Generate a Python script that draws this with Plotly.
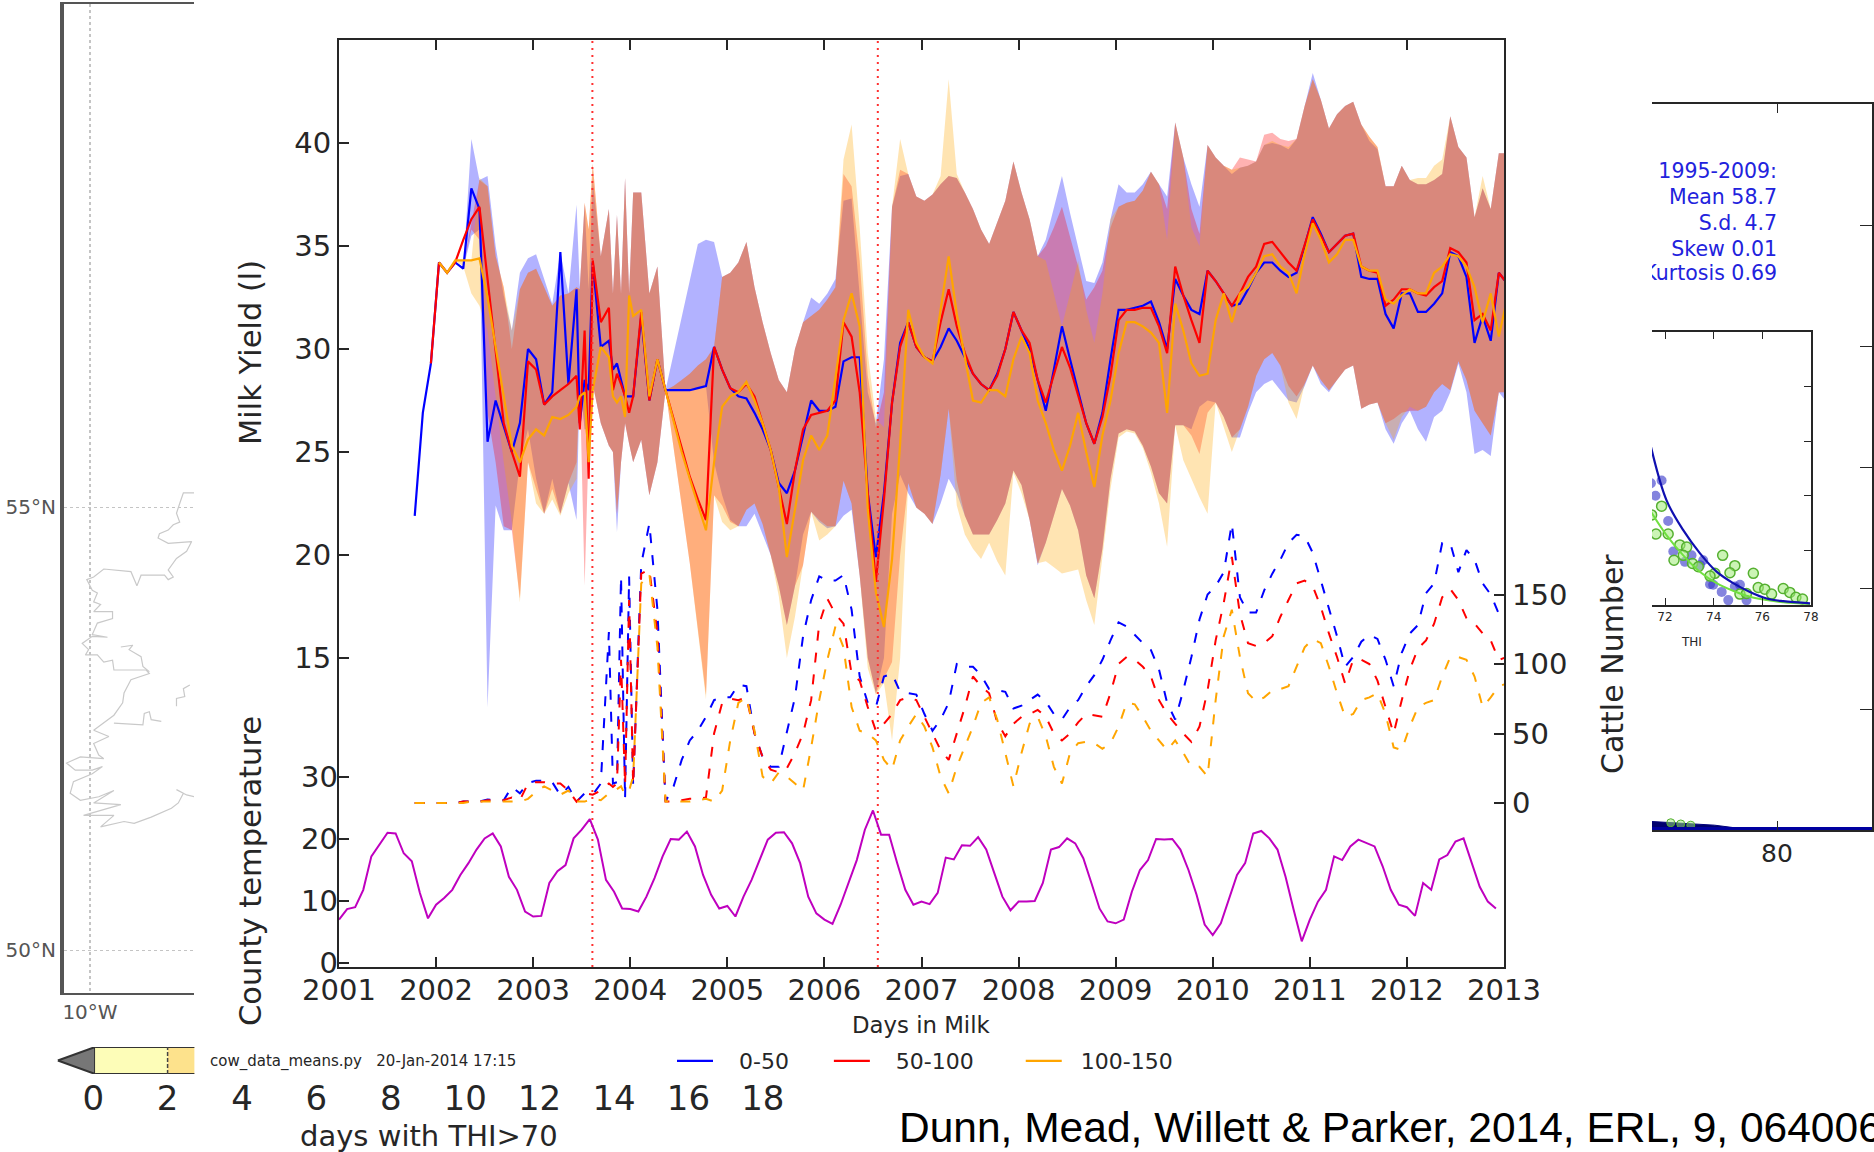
import plotly.graph_objects as go

W, H = 1874, 1152
FONT = "DejaVu Sans"

# ---- main panel: milk yield by days-in-milk group -------------------------
milk_months = list(range(0, 21)) + [20.4, 21, 21.5, 22, 23, 24, 24.5, 25, 25.5, 26, 26.5] + list(range(27, 136))
cattle_months = list(range(0, 25)) + [24.5, 25, 25.5, 26, 26.5] + list(range(27, 136))

mean_0_50 = [21.9,26.9,29.3,34.2,33.7,34.2,33.9,37.8,36.8,25.5,27.5,26.2,25.0,26.4,30.0,29.5,27.3,27.9,34.7,28.3,32.9,
 26.4,28.5,28.0,34.2,30.1,30.4,29.0,29.3,28.5,27.7,27.7,
 27.7,31.6,27.5,29.5,28.0,28.0,28.0,28.0,28.1,28.2,30.1,29.0,28.1,27.7,27.6,
 26.9,26.1,25.1,23.5,23.0,24.1,25.8,27.5,27.0,27.0,27.2,29.4,29.6,29.6,23.0,19.9,23.0,27.4,30.3,31.3,30.1,29.6,29.4,30.1,31.0,30.4,29.6,28.8,28.3,28.0,28.8,30.0,31.8,30.9,30.0,28.5,27.0,29.0,31.1,29.5,27.9,26.4,25.4,26.9,29.5,31.9,
 31.9,32.0,32.1,32.3,31.3,30.0,33.4,32.6,31.9,31.7,33.8,33.3,32.7,32.1,32.2,32.9,33.7,34.2,34.2,33.8,33.5,33.7,35.0,36.4,35.6,34.7,35.1,35.5,35.6,33.5,33.4,33.4,31.7,31.0,32.7,32.7,31.8,31.8,32.2,32.7,34.7,34.5,33.5,30.3,31.6,30.4,33.7,33.2]
mean_50_100 = [None,None,29.3,34.2,33.7,34.2,35.3,36.3,36.9,33.5,30.1,26.4,25.0,23.8,29.4,29.0,27.3,27.7,28.0,28.3,28.7,
 26.1,30.9,23.7,34.3,31.3,32.0,28.0,28.8,28.3,27.7,26.9,
 27.7,31.8,27.5,29.5,28.0,26.6,25.1,23.8,22.7,21.7,30.1,29.0,28.1,27.9,28.3,
 27.7,26.4,25.1,23.3,21.5,24.1,26.1,26.8,26.9,27.0,27.5,31.3,30.6,27.9,23.0,18.7,22.7,27.4,30.1,31.3,30.1,29.6,29.4,31.3,32.9,31.1,29.8,28.8,28.3,28.0,28.7,30.0,31.8,30.9,30.3,28.5,27.4,28.7,30.1,29.1,27.7,26.4,25.4,26.7,28.7,31.4,
 31.9,31.9,32.0,32.0,31.1,29.8,34.0,32.6,31.4,30.3,33.8,33.3,32.7,32.1,32.7,33.5,34.0,35.1,35.2,34.7,34.2,33.8,35.0,36.3,35.5,34.7,35.1,35.5,35.6,34.0,33.8,33.7,32.1,32.4,32.9,32.9,32.7,32.6,33.0,33.3,34.9,34.7,34.2,31.4,31.7,30.9,33.7,33.2]
mean_100_150 = [None,None,None,34.2,33.7,34.3,34.3,34.3,34.4,32.5,30.1,27.7,25.3,24.5,25.6,26.1,25.8,26.7,26.6,26.8,27.2,
 27.7,27.9,24.5,28.0,30.1,29.6,27.7,27.4,27.7,26.7,32.6,
 31.6,31.9,27.7,29.5,28.0,26.6,25.0,23.7,22.4,21.2,24.5,27.2,27.7,27.9,28.4,
 27.5,26.4,25.1,23.3,19.9,22.2,24.6,25.8,25.1,25.8,28.5,31.4,32.7,31.1,22.2,18.2,16.5,19.8,25.4,31.9,30.3,29.6,29.3,31.9,34.5,31.7,29.6,27.5,27.4,28.0,28.0,27.7,29.5,30.6,29.8,27.5,26.4,25.1,24.1,25.3,26.9,25.0,23.3,25.8,27.5,29.8,
 31.3,31.3,31.1,30.8,30.3,26.9,32.2,30.9,29.3,28.7,28.8,31.4,32.7,31.3,32.7,33.0,33.7,34.5,34.6,34.0,33.7,32.7,34.6,36.1,35.3,34.2,34.6,35.3,35.3,34.0,33.8,33.8,32.4,32.2,32.6,32.9,32.7,32.7,33.7,34.0,34.6,34.5,34.0,33.0,31.3,32.7,30.6,32.4]

upper_0_50 = [None,None,None,34.2,33.7,34.2,33.9,40.2,38.2,38.4,35.0,32.6,30.9,33.7,34.4,34.6,33.4,32.2,34.7,32.7,37.0,
 33.0,37.0,32.9,38.2,34.5,36.8,32.7,36.5,32.7,38.3,32.7,
 37.6,37.6,32.7,34.0,28.0,29.8,31.6,33.4,35.1,35.3,35.2,33.5,33.7,34.2,35.2,
 33.0,31.3,29.8,28.5,27.9,30.0,31.3,32.5,32.2,32.7,33.4,37.2,37.3,32.7,27.9,26.4,29.5,36.9,38.4,38.5,37.4,37.2,37.5,38.0,38.4,38.3,37.6,36.8,35.8,35.1,36.1,37.2,39.1,37.6,36.3,34.5,35.3,36.9,38.4,36.6,35.0,33.3,33.2,34.2,36.3,38.0,
 37.6,37.6,38.0,38.6,38.0,37.4,41.0,39.3,38.0,36.9,39.9,39.3,38.9,38.5,38.8,38.9,39.1,39.9,40.0,39.9,39.7,40.2,41.8,43.4,42.1,40.7,41.4,41.8,42.0,40.9,40.1,39.7,37.9,37.9,38.9,38.2,38.0,38.0,38.2,38.5,41.3,39.8,39.3,36.4,37.8,36.8,39.5,39.5]
upper_50_100 = [None,None,None,34.2,33.7,34.2,34.0,36.1,38.2,37.9,34.5,33.0,30.0,32.9,33.7,33.9,33.0,32.1,32.6,32.7,33.0,
 32.9,37.1,35.8,39.0,34.5,36.8,32.7,36.5,32.7,38.3,32.7,
 37.6,37.6,32.7,34.0,28.0,28.2,28.5,28.8,29.2,29.5,30.1,33.5,33.7,34.2,35.2,
 33.0,31.3,29.8,28.5,27.9,30.0,31.3,31.6,31.9,32.4,33.0,38.5,37.9,34.3,28.7,26.2,27.9,36.9,38.7,38.5,37.4,37.2,37.5,38.0,38.4,38.3,37.6,36.8,35.8,35.1,36.1,37.2,39.1,37.6,36.3,34.5,35.0,35.9,36.9,35.5,34.0,32.4,33.0,33.8,35.9,36.9,
 37.1,37.2,37.7,38.6,38.0,36.8,41.0,39.3,36.8,35.6,39.9,39.3,38.9,38.7,39.3,39.2,39.1,40.4,40.5,40.2,40.1,40.2,41.8,43.1,42.1,40.7,41.4,41.8,42.0,40.9,40.3,39.8,37.9,37.9,38.9,38.2,38.0,38.0,38.2,38.5,41.3,39.8,39.3,36.4,37.8,36.8,39.5,39.5]
upper_100_150 = [None,None,None,34.2,33.7,34.3,34.3,34.3,38.3,37.9,34.5,33.0,30.9,32.9,33.7,33.9,33.0,32.1,32.6,32.7,33.0,
 32.9,37.1,35.8,39.0,34.5,36.8,32.7,36.5,32.7,38.3,32.7,
 37.6,37.6,32.7,34.0,28.0,28.2,28.5,28.8,29.2,29.5,30.1,33.5,33.7,34.2,35.2,
 33.0,31.3,29.8,28.5,27.9,30.0,31.3,31.6,31.9,32.4,33.0,39.2,40.9,35.9,29.8,26.6,26.2,36.9,40.2,38.5,37.4,37.2,37.5,38.4,43.1,38.5,37.6,36.8,35.8,35.1,36.1,37.2,39.1,37.6,36.3,34.5,34.3,32.7,31.1,32.7,34.3,31.9,30.3,32.7,36.3,36.9,
 37.1,37.2,37.7,38.6,38.0,35.3,41.0,39.3,35.9,35.0,39.9,39.3,38.9,38.7,38.8,38.9,39.1,39.9,40.1,39.9,39.8,40.2,41.8,43.1,42.1,40.7,41.4,41.8,42.0,40.9,40.3,39.8,37.9,37.9,38.9,38.2,38.3,38.3,38.9,39.2,41.3,39.8,39.3,36.4,38.4,36.8,39.5,39.5]

lower_0_50 = [None,None,None,34.2,33.7,34.2,33.9,35.5,35.8,12.6,22.4,21.2,21.2,24.5,26.1,23.7,22.0,23.7,22.0,23.5,21.7,
 28.5,26.1,26.1,28.3,26.4,25.3,25.0,21.1,24.5,26.4,25.4,
 24.5,25.6,22.9,24.5,28.0,28.0,28.0,28.0,28.1,28.2,24.5,22.9,21.7,21.4,21.4,
 22.0,21.0,20.0,18.5,16.6,18.5,21.0,22.1,21.6,21.3,21.4,21.9,22.2,19.0,15.0,13.3,15.0,22.0,23.9,23.0,22.3,22.0,21.5,22.5,23.7,23.0,21.9,21.0,21.0,21.0,21.7,22.5,24.1,23.4,21.7,19.5,20.6,21.9,23.2,22.4,21.2,19.0,17.9,20.3,23.7,25.9,
 26.1,26.0,25.3,24.3,23.0,22.5,26.3,26.3,26.1,27.2,27.5,27.4,26.7,25.7,25.7,26.9,27.9,28.3,28.5,28.0,27.5,27.4,28.2,29.2,28.3,27.9,28.5,29.0,29.2,27.1,27.3,27.4,26.1,25.4,26.4,27.0,26.1,25.5,26.7,27.0,27.9,29.3,27.9,24.9,25.1,24.8,27.9,27.4]
lower_50_100 = [None,None,None,34.2,33.7,34.2,34.0,35.8,35.3,26.9,24.5,21.4,21.2,17.9,24.5,23.2,22.0,23.2,22.0,23.5,24.5,
 28.5,18.5,25.3,28.3,26.4,25.3,25.0,22.0,24.5,26.4,25.4,
 24.5,25.6,22.9,24.5,28.0,25.3,22.4,19.6,16.4,13.2,22.9,22.4,21.6,21.4,22.2,
 22.5,21.5,20.0,18.5,16.6,18.5,19.5,22.1,21.7,21.4,21.4,23.6,22.5,19.0,15.0,13.3,14.0,14.8,20.0,23.5,22.3,22.0,21.5,23.9,27.1,23.6,21.9,21.0,21.0,21.0,21.7,22.5,24.1,23.4,21.7,19.6,20.6,21.9,23.2,22.4,21.2,19.0,17.9,20.3,23.7,25.9,
 26.1,26.0,25.3,24.3,23.0,22.5,26.3,26.3,25.8,24.9,26.9,27.4,26.7,25.7,26.1,27.2,28.7,29.5,29.8,29.2,28.2,27.7,28.3,29.2,28.5,28.0,28.5,29.0,29.2,27.1,27.3,27.4,26.4,26.6,26.9,27.0,27.0,27.2,27.9,28.3,28.0,29.4,28.5,27.0,26.4,25.8,27.9,27.9]
lower_100_150 = [None,None,None,34.2,33.7,34.3,34.0,32.7,32.1,30.9,27.7,24.5,21.6,17.7,24.5,22.5,22.0,22.7,21.9,23.0,23.7,
 28.5,26.1,25.3,28.3,26.4,25.3,25.0,22.0,24.5,26.4,25.4,
 24.5,25.6,22.9,24.5,28.0,25.3,22.4,19.6,16.4,13.0,22.9,21.6,21.2,21.4,22.2,
 22.5,21.5,20.0,18.0,15.0,17.0,19.5,22.1,20.7,21.0,21.4,23.6,22.5,19.0,14.5,13.2,13.8,11.0,15.0,23.5,22.3,22.0,21.5,23.9,27.1,22.4,21.0,20.3,19.8,20.6,19.7,19.0,24.0,23.0,21.7,19.6,19.7,19.4,19.1,19.2,19.3,17.8,16.6,19.8,23.2,25.7,
 26.0,25.9,25.2,24.0,22.5,20.4,26.3,24.6,23.7,22.8,22.0,27.4,26.2,25.0,26.1,27.2,28.7,29.5,29.8,29.2,27.4,26.6,28.3,29.2,28.5,28.0,28.5,29.0,29.2,27.1,27.3,27.4,26.4,25.6,26.7,27.2,27.0,27.2,27.9,28.3,28.0,29.4,28.5,27.0,26.4,25.8,27.9,27.9]

cattle_0_50 = [0,0,0,0,0,0,1,1,1,2.5,2,2,11.6,7,14.5,16,16,15,5.6,11.6,1,7,6,14,123,
 14,15,163,3,163,
 12,172,201,139,1,12,31,45,52,62,74,76,76,85,84,50,33,26,26,50,76,120,146,163,160,160,164,139,91,72,69,91,93,80,79,78,64,52,60,72,100,98,98,92,82,81,80,68,70,74,78,73,64,60,69,74,84,92,103,117,130,127,121,115,110,96,72,60,81,105,132,150,156,166,201,148,137,137,153,165,175,187,193,192,180,160,141,120,98,105,116,121,118,103,84,108,122,128,151,158,187,187,166,182,175,158,150,136,141]
cattle_50_100 = [0,0,0,0,0,0,1,1,1,2,2,2,4,2,14,15,15,14,14,9,1,7,6,9,14,
 11.6,14,103,13,146,
 13,165,168,122,1,1,2,3,3,4,50,72,75,74,76,50,33,24,22,25,36,50,74,129,147,136,129,93,88,69,52,57,64,74,76,74,62,50,38,31,50,69,91,84,79,58,48,57,62,64,67,62,50,45,50,58,64,63,62,79,100,105,103,98,91,74,64,57,50,44,55,81,117,144,177,136,115,113,115,120,134,146,158,160,156,141,122,105,86,103,103,100,88,69,50,74,96,111,117,129,148,154,146,133,129,122,117,103,105]
cattle_100_150 = [0,0,0,0,0,0,0,1,1,1,1,1,1,1,3,8,12,9,6,9,1,1,3,2,7,
 8,10,12,6,9,
 19,158,165,112,1,1,1,1,2,3,1,9,45,72,76,52,19,14,22,19,14,9,40,74,103,127,112,69,52,50,45,31,24,45,55,64,55,40,19,7,26,40,55,72,76,60,36,12,36,57,62,48,26,14,36,43,44,43,39,43,55,72,71,62,52,45,38,45,36,26,26,19,74,120,139,105,79,73,76,81,82,84,98,112,118,115,98,79,62,64,74,76,79,64,40,38,55,69,72,74,91,105,105,103,91,69,76,84,86]

# monthly county temperature, January 2001 onward
county_temperature = [7.0,8.7,9.0,11.8,17.2,19.0,21.0,20.9,17.7,16.4,11.3,7.2,
 9.4,10.5,11.8,14.2,16.1,18.3,20.1,20.9,18.8,13.9,11.8,8.3,
 7.5,7.6,12.9,14.8,15.8,20.1,21.5,23.2,19.9,13.4,11.5,8.8,
 8.7,8.3,10.7,13.7,17.2,20.0,19.9,21.2,18.8,14.2,11.0,8.8,
 9.2,7.5,10.7,13.4,16.6,19.9,21.0,21.1,19.3,16.1,10.7,8.0,
 7.0,6.3,9.4,12.9,16.6,21.5,24.6,20.7,20.7,16.1,11.8,9.4,
 9.9,9.5,11.3,17.0,16.7,19.0,18.9,20.3,18.3,14.5,10.7,8.5,
 9.9,9.9,10.0,12.9,18.3,18.7,20.1,19.3,16.9,12.9,8.8,6.7,
 6.4,7.0,11.5,15.0,16.6,20.0,19.9,20.0,18.3,15.0,11.0,6.2,
 4.5,6.4,10.2,14.2,16.1,20.9,21.3,20.1,18.3,13.9,8.6,3.5,
 7.0,9.9,11.8,17.2,16.6,18.8,19.9,19.4,18.8,15.6,11.8,9.4,
 9.0,7.6,12.9,11.8,16.7,17.4,19.6,20.1,16.1,12.3,9.9,8.8]
heatwave_years = [2003.61, 2006.55]
year_ticks = list(range(2001, 2014))
milk_ticks = [15, 20, 25, 30, 35, 40]
temp_ticks = [0, 10, 20, 30]
cattle_ticks = [0, 50, 100, 150]
group_names = ["\u00a0\u00a0\u00a00-50\u00a0\u00a0\u00a0\u00a0\u00a0",
               "\u00a0\u00a0\u00a050-100\u00a0\u00a0\u00a0\u00a0\u00a0\u00a0",
               "\u00a0\u00a0100-150"]

# ---- map panel (left, mostly hidden) ---------------------------------------
coast_lon = [-7.72,-7.97,-8.05,-8.12,-8.05,-8.19,-8.30,-8.49,-8.52,-8.30,-7.79,-7.90,-8.12,-8.30,-8.19,-8.30,-8.38,-8.89,-8.98,-9.11,-9.70,-9.92,-10.07,-9.95,-9.84,-9.92,-9.77,-9.92,-9.51,-9.51,-9.84,-9.95,-9.62,-9.95,-10.17,-10.03,-10.10,-9.84,-9.70,-9.51,-9.48,-8.78,-8.71,-9.11,-9.26,-9.29,-9.48,-9.92,-9.59,-9.92,-9.81,-9.70,-10.21,-10.51,-10.32,-9.95,-9.73,-9.95,-10.36,-10.43,-10.21,-9.81,-9.48,-9.92,-9.33,-10.14,-9.48,-9.77,-9.26,-9.04,-8.67,-8.23,-8.08,-7.97,-8.12,-7.90,-7.72,None,
 -9.33,-9.07,-9.15,-8.89,-8.85,-8.71,None,-9.48,-8.85,-8.82,-8.71,-8.67,-8.45,None,-8.12,-8.12,-7.94,-7.97,-7.83]
coast_lat = [55.16,55.16,55.04,54.93,54.83,54.80,54.74,54.70,54.65,54.59,54.61,54.50,54.42,54.29,54.21,54.18,54.23,54.23,54.11,54.27,54.30,54.21,54.18,54.06,54.03,53.93,53.90,53.82,53.82,53.74,53.69,53.56,53.53,53.54,53.46,53.39,53.33,53.33,53.25,53.27,53.16,53.16,53.12,53.05,52.90,52.79,52.65,52.48,52.41,52.33,52.20,52.16,52.18,52.11,52.03,52.03,52.07,51.99,51.90,51.77,51.69,51.73,51.80,51.66,51.64,51.52,51.52,51.39,51.45,51.43,51.50,51.60,51.66,51.77,51.81,51.75,51.73,None,
 53.42,53.44,53.39,53.31,53.20,53.14,None,52.56,52.54,52.67,52.69,52.60,52.58,None,52.75,52.84,52.86,52.95,52.99]
colorbar_ticks = list(range(0, 20, 2))

# ---- histogram panel (right, mostly hidden) --------------------------------
stats_lines = ["1995-2009:", "Mean 58.7", "S.d. 4.7", "Skew 0.01", "Kurtosis 0.69"]
stats_heights = [5.43, 5.22, 5.00, 4.79, 4.59]
hist_thi = [60, 66, 70, 73, 76, 78, 79, 95]
hist_edge = [0.07, 0.055, 0.04, 0.02, 0.01, 0.005, 0, 0]
hist_green_thi = [63.0, 64.6, 66.2]
hist_green_n = [0.06, 0.05, 0.04]
inset_blue_thi = [71.42,71.86,71.61,72.13,72.34,72.82,73.09,73.44,73.57,73.85,73.98,74.33,74.6,74.87,75.08,75.35]
inset_blue_n = [2.23,2.28,2.0,1.54,0.98,0.79,0.91,0.73,0.82,0.38,0.37,0.24,0.09,0.34,0.37,0.09]
inset_green_thi = [71.86,71.45,71.63,72.13,72.61,72.89,72.37,72.75,73.13,73.37,74.37,74.87,75.63,74.67,74.05,73.85,75.83,76.1,76.86,77.13,76.38,77.38,77.65,75.08,75.35]
inset_green_n = [1.81,1.65,1.30,1.30,1.10,1.06,0.82,0.91,0.76,0.70,0.91,0.72,0.58,0.59,0.58,0.53,0.32,0.29,0.30,0.23,0.2,0.14,0.11,0.2,0.21]
fit_thi = [71.42,72.06,72.75,73.43,74.12,74.8,75.49,76.18,76.86,77.96]
fit_blue = [2.9,1.92,1.37,0.95,0.61,0.4,0.24,0.12,0.07,0.03]
fit_green = [1.71,1.28,0.91,0.61,0.4,0.26,0.15,0.09,0.05,0.02]

for s in (mean_0_50, mean_50_100, mean_100_150, upper_0_50, upper_50_100, upper_100_150,
          lower_0_50, lower_50_100, lower_100_150):
    assert len(s) == len(milk_months), len(s)
for s in (cattle_0_50, cattle_50_100, cattle_100_150):
    assert len(s) == len(cattle_months), len(s)

def to_year(k):
    return 2001.78 + k / 12

def dom_x(a, b):
    return [a / W, b / W]

def dom_y(top, bottom):
    return [1 - bottom / H, 1 - top / H]

BLUE, RED, ORANGE = "#0000ff", "#ff0000", "#ffa500"
fig = go.Figure()

# bands, then means
milk_years = [to_year(k) for k in milk_months]
for lo, up, rgb in ((lower_0_50, upper_0_50, "0,0,255"), (lower_50_100, upper_50_100, "255,0,0"),
                    (lower_100_150, upper_100_150, "255,165,0")):
    pts = [(x, l, u) for x, l, u in zip(milk_years, lo, up) if l is not None]
    xs = [p[0] for p in pts]
    fig.add_trace(go.Scatter(x=xs + xs[::-1], y=[p[2] for p in pts] + [p[1] for p in pts][::-1],
                             fill="toself", fillcolor=f"rgba({rgb},0.3)", mode="lines",
                             line=dict(width=0), showlegend=False, hoverinfo="skip"))
for series, col, name in zip((mean_0_50, mean_50_100, mean_100_150), (BLUE, RED, ORANGE), group_names):
    fig.add_trace(go.Scatter(x=milk_years, y=series, mode="lines", name=name,
                             line=dict(color=col, width=2.2)))
# temperature
fig.add_trace(go.Scatter(x=[2001 + m / 12 for m in range(len(county_temperature))], y=county_temperature,
                         mode="lines", yaxis="y2", line=dict(color="#bf00bf", width=2), showlegend=False))
# cattle numbers
cattle_years = [to_year(k) for k in cattle_months]
for series, col in zip((cattle_0_50, cattle_50_100, cattle_100_150), (BLUE, RED, ORANGE)):
    fig.add_trace(go.Scatter(x=cattle_years, y=series, mode="lines", yaxis="y3", showlegend=False,
                             line=dict(color=col, width=2, dash="10px,12px")))
# heat-wave markers
for yr in heatwave_years:
    fig.add_trace(go.Scatter(x=[yr, yr], y=[0, 45], mode="lines", showlegend=False,
                             line=dict(color="#ff3030", width=2, dash="2px,5px")))

# map
fig.add_trace(go.Scatter(x=coast_lon, y=coast_lat, xaxis="x2", yaxis="y4", mode="lines", showlegend=False,
                         line=dict(color="#c9c9c9", width=1.2)))
# colour bar
fig.add_trace(go.Scatter(x=[-0.95, 0.05, 0.05, -0.95], y=[0.5, 1, 0, 0.5], xaxis="x3", yaxis="y5", mode="lines", fill="toself",
                         fillcolor="#777777", line=dict(color="#333333", width=2), showlegend=False))
fig.add_trace(go.Scatter(x=[0.05, 2, 2, 0.05, 0.05], y=[0, 0, 1, 1, 0], xaxis="x3", yaxis="y5", mode="lines", fill="toself",
                         fillcolor="#fdfdb8", line=dict(width=0), showlegend=False))
fig.add_trace(go.Scatter(x=[2, 2.72, 2.72, 2, 2], y=[0, 0, 1, 1, 0], xaxis="x3", yaxis="y5", mode="lines", fill="toself",
                         fillcolor="#fde28c", line=dict(width=0), showlegend=False))
fig.add_trace(go.Scatter(x=[0.05, 2.72, None, 0.05, 2.72], y=[0, 0, None, 1, 1], xaxis="x3", yaxis="y5", mode="lines",
                         line=dict(color="#333333", width=2), showlegend=False))
fig.add_trace(go.Scatter(x=[2, 2], y=[0, 1], xaxis="x3", yaxis="y5", mode="lines",
                         line=dict(color="#444444", width=1.5, dash="4px,2px"), showlegend=False))
# histogram panel
fig.add_trace(go.Scatter(x=hist_thi, y=hist_edge, xaxis="x4", yaxis="y6", mode="lines", fill="tozeroy",
                         fillcolor="#00006e", line=dict(color="#00007a", width=1), showlegend=False))
fig.add_trace(go.Scatter(x=hist_green_thi, y=hist_green_n, xaxis="x4", yaxis="y6", mode="markers", showlegend=False,
                         marker=dict(size=8, color="rgba(160,235,120,0.5)", line=dict(width=1, color="#55b030"))))
fig.add_trace(go.Scatter(x=[60, 96], y=[0, 0], xaxis="x4", yaxis="y6", mode="lines",
                         line=dict(color="#0000a0", width=6), showlegend=False))
fig.add_trace(go.Scatter(x=[80] * len(stats_lines), y=stats_heights, text=stats_lines, xaxis="x4", yaxis="y6",
                         mode="text", textposition="middle left", cliponaxis=True, showlegend=False,
                         textfont=dict(family=FONT, size=20.5, color="#2222dd")))
# inset
fig.add_trace(go.Scatter(x=inset_blue_thi, y=inset_blue_n, xaxis="x5", yaxis="y7", mode="markers", showlegend=False,
                         marker=dict(size=10, color="rgba(50,50,200,0.6)", line=dict(width=0))))
fig.add_trace(go.Scatter(x=inset_green_thi, y=inset_green_n, xaxis="x5", yaxis="y7", mode="markers", showlegend=False,
                         marker=dict(size=10, color="rgba(160,235,120,0.55)", line=dict(width=1.5, color="#55b030"))))
fig.add_trace(go.Scatter(x=fit_thi, y=fit_green, xaxis="x5", yaxis="y7", mode="lines", showlegend=False,
                         line=dict(color="#70e040", width=2, shape="spline")))
fig.add_trace(go.Scatter(x=fit_thi, y=fit_blue, xaxis="x5", yaxis="y7", mode="lines", showlegend=False,
                         line=dict(color="#1010b0", width=2.2, shape="spline")))

INK = "#262626"
tick_font = dict(family=FONT, size=29, color=INK)
main_left, main_right, main_top, main_bottom = 339, 1504, 40, 967

fig.update_layout(
    width=W, height=H, margin=dict(l=0, r=0, t=0, b=0, autoexpand=False), paper_bgcolor="white",
    plot_bgcolor="rgba(0,0,0,0)",
    font=dict(family=FONT, color=INK),
    legend=dict(orientation="h", x=672 / W, y=1 - 1061 / H, xanchor="left", yanchor="middle",
                font=dict(family=FONT, size=22, color=INK), itemwidth=36, bgcolor="rgba(0,0,0,0)"),
    xaxis=dict(domain=dom_x(main_left, main_right), range=[2001, 2013], tickvals=year_ticks, tickformat="d",
               showgrid=False, zeroline=False, showline=True, linecolor=INK, linewidth=2, mirror="ticks",
               ticks="inside", ticklen=10, tickwidth=1.5, tickcolor=INK, tickfont=tick_font, anchor="y",
               ticklabelstandoff=-4),
    yaxis=dict(domain=dom_y(main_top, main_bottom), range=[0, 45], tickvals=milk_ticks, showgrid=False, zeroline=False,
               showline=True, linecolor=INK, linewidth=2, mirror=True, ticks="inside", ticklen=10, tickwidth=1.5,
               tickcolor=INK, tickfont=tick_font, anchor="x"),
    yaxis2=dict(overlaying="y", side="left", anchor="x",
                range=[-(967 - 963) / 6.2, (963 - 40) / 6.2], tickvals=temp_ticks, showgrid=False, zeroline=False,
                showline=False, ticks="inside", ticklen=10, tickwidth=1.5, tickcolor=INK, tickfont=tick_font),
    yaxis3=dict(overlaying="y", side="right", anchor="x",
                range=[-(967 - 803) / 1.39, (803 - 40) / 1.39], tickvals=cattle_ticks, showgrid=False, zeroline=False,
                showline=False, ticks="inside", ticklen=10, tickwidth=1.5, tickcolor=INK, tickfont=tick_font,
                ticklabelstandoff=7),
    # map
    xaxis2=dict(domain=dom_x(64, 194), range=[-10 - 26 / 46, -10 + 104 / 46], anchor="y4", tickvals=[-10],
                ticktext=["10°W"], showgrid=True, griddash="dot", gridcolor="#c4c4c4", gridwidth=2, zeroline=False,
                showline=True, linecolor="#555555", linewidth=2, mirror=True, ticks="",
                tickfont=dict(family=FONT, size=20, color="#555555")),
    yaxis4=dict(domain=dom_y(4, 993), range=[50 - (993 - 950) / 88.6, 55 + (507 - 4) / 88.6], anchor="x2",
                tickvals=[50, 55], ticktext=["50°N", "55°N"], showgrid=True, griddash="dot", gridcolor="#c4c4c4",
                gridwidth=1, zeroline=False, showline=True, linecolor="#555555", linewidth=4, ticks="",
                tickfont=dict(family=FONT, size=20, color="#555555"), ticklabelstandoff=0),
    # colour bar
    xaxis3=dict(domain=dom_x(56, 800), range=[-1, -1 + (800 - 56) / 37.2], anchor="y5", tickvals=colorbar_ticks,
                showgrid=False, zeroline=False, showline=False, ticks="", ticklabelstandoff=1,
                tickfont=dict(family=FONT, size=34, color=INK)),
    yaxis5=dict(domain=dom_y(1047, 1074), range=[0, 1], anchor="x3", visible=False),
    # histogram
    xaxis4=dict(domain=dom_x(1652, 1872), range=[60, 60 + 220 / 6.25], anchor="y6", tickvals=[80], showgrid=False,
                zeroline=False, showline=True, linecolor=INK, linewidth=2, mirror="ticks", ticks="inside", ticklen=9,
                tickcolor=INK, tickfont=dict(family=FONT, size=25, color=INK)),
    yaxis6=dict(domain=dom_y(104, 830), range=[0, 6], anchor="x4", side="right", tickvals=[1, 2, 3, 4, 5],
                showticklabels=False, showgrid=False, zeroline=False, showline=True, linecolor=INK, linewidth=2,
                ticks="inside", ticklen=12, tickcolor=INK),
    # inset
    xaxis5=dict(domain=dom_x(1652, 1811), range=[72 - 13 / 24.33, 78], anchor="y7", tickvals=[72, 74, 76, 78],
                showgrid=False, zeroline=False, showline=True, linecolor=INK, linewidth=2, mirror="ticks",
                ticks="inside", ticklen=7, tickcolor=INK, tickfont=dict(family=FONT, size=12, color=INK)),
    yaxis7=dict(domain=dom_y(332, 605), range=[0, 5], anchor="x5", side="right", tickvals=[1, 2, 3, 4],
                showticklabels=False, showgrid=False, zeroline=False, showline=True, linecolor=INK, linewidth=2,
                ticks="inside", ticklen=7, tickcolor=INK),
)

def note(text, x, y, size, angle=0, xanchor="center", family=FONT, color=INK):
    fig.add_annotation(text=text, x=x / W, y=1 - y / H, xref="paper", yref="paper", showarrow=False,
                       font=dict(family=family, size=size, color=color), textangle=angle,
                       xanchor=xanchor, yanchor="middle")

note("Milk Yield (l)", 250, 352, 30.5, angle=-90)
note("County temperature", 250, 871, 30.5, angle=-90)
note("Cattle Number", 1612, 664, 30, angle=-90)
note("Days in Milk", 921, 1025, 22.8)
note("cow_data_means.py   20-Jan-2014 17:15", 208, 1061, 15, xanchor="left")
note("days with THI>70", 429, 1136, 29)
note("THI", 1691, 642, 12)
note("Dunn, Mead, Willett &amp; Parker, 2014, ERL, 9, 064006", 897, 1127, 42.5, xanchor="left",
     family="Liberation Sans", color="#000000")

fig.write_html("out.html", config=dict(displayModeBar=False),
               post_script="document.body.style.margin='0';document.body.style.overflow='hidden';")
